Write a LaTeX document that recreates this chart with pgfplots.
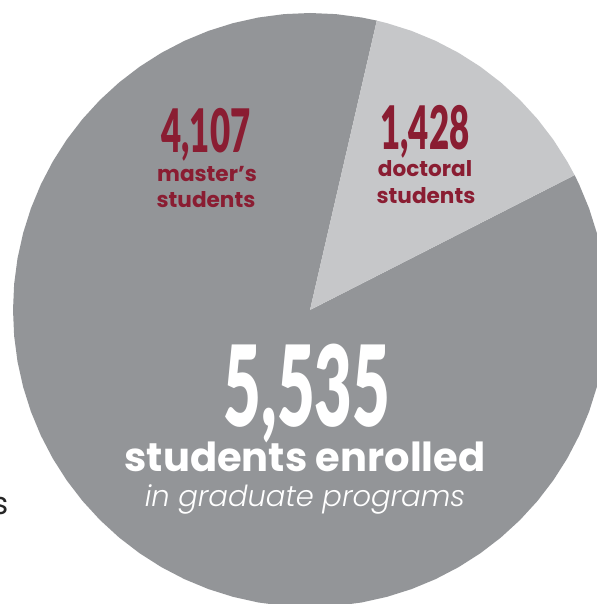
\documentclass[border=0pt]{standalone}
\usepackage{pgfplots}
\pgfplotsset{compat=1.18}
\usepackage{fontspec}
\setmainfont{Poppins}
\IfFontExistsTF{Lato Black}
  {\newfontfamily\numfont[FakeStretch=0.58]{Lato Black}}
  {\newfontfamily\numfont[FakeStretch=0.58,FakeBold=1]{Lato}}
\IfFontExistsTF{Poppins Light Italic}
  {\newfontfamily\lightit{Poppins Light Italic}}
  {\newfontfamily\lightit[FakeSlant=0.2]{Poppins}}

\definecolor{pieDark}{RGB}{147,149,152}
\definecolor{pieLight}{RGB}{198,199,201}
\definecolor{maroon}{RGB}{138,29,50}

\tikzset{lbl/.style={inner sep=0pt, anchor=base}}

\begin{document}
\begin{tikzpicture}
\useasboundingbox (0,0) rectangle (597bp,604bp);
\begin{axis}[
    at={(0,0)}, anchor=south west,
    scale only axis,
    width=597bp, height=604bp,
    xmin=-310, xmax=287,
    ymin=-294, ymax=310,
    hide axis,
    clip=true,
]
% master's slice (angle, radius)
\addplot [fill=pieDark, draw=none, data cs=polar] coordinates {
    (0,0) (77,297) (80,297) (85,297) (90,297) (95,297) (100,297) (105,297)
    (110,297) (115,297) (120,297) (125,297) (130,297) (135,297) (140,297)
    (145,297) (150,297) (155,297) (160,297) (165,297) (170,297) (175,297)
    (180,297) (185,297) (190,297) (195,297) (200,297) (205,297) (210,297)
    (215,297) (220,297) (225,297) (230,297) (235,297) (240,297) (245,297)
    (250,297) (255,297) (260,297) (265,297) (270,297) (275,297) (280,297)
    (285,297) (290,297) (295,297) (300,297) (305,297) (310,297) (315,297)
    (320,297) (325,297) (330,297) (335,297) (340,297) (345,297) (350,297)
    (355,297) (360,297) (365,297) (370,297) (375,297) (380,297) (385,297)
    (387,297)
} -- cycle;
% doctoral slice
\addplot [fill=pieLight, draw=none, data cs=polar] coordinates {
    (0,0) (27,297) (30,297) (35,297) (40,297) (45,297) (50,297) (55,297)
    (60,297) (65,297) (70,297) (75,297) (77,297)
} -- cycle;

\node[lbl, text=maroon, font={\numfont\fontsize{60bp}{60bp}\selectfont}] at (axis cs:-104,157) {4,107};
\node[lbl, text=maroon, font={\bfseries\fontsize{21.6bp}{21.6bp}\selectfont}] at (axis cs:-103,128) {master’s};
\node[lbl, text=maroon, font={\bfseries\fontsize{21.6bp}{21.6bp}\selectfont}] at (axis cs:-104,102) {students};

\node[lbl, text=maroon, font={\numfont\fontsize{60bp}{60bp}\selectfont}] at (axis cs:115,160) {1,428};
\node[lbl, text=maroon, font={\bfseries\fontsize{21.6bp}{21.6bp}\selectfont}] at (axis cs:115,133) {doctoral};
\node[lbl, text=maroon, font={\bfseries\fontsize{21.6bp}{21.6bp}\selectfont}] at (axis cs:116,106) {students};

\node[lbl, text=white, font={\numfont\fontsize{112bp}{112bp}\selectfont}] at (axis cs:-3,-117) {5,535};
\node[lbl, text=white, font={\bfseries\fontsize{40bp}{40bp}\selectfont}] at (axis cs:-5,-162) {students enrolled};
\node[lbl, text=white, font={\lightit\fontsize{29bp}{29bp}\selectfont}] at (axis cs:-5,-197) {in graduate programs};

\node[lbl, text=black!85, anchor=base east, font={\fontsize{31bp}{31bp}\selectfont}] at (axis cs:-301,-205) {s};
\end{axis}
\end{tikzpicture}
\end{document}
